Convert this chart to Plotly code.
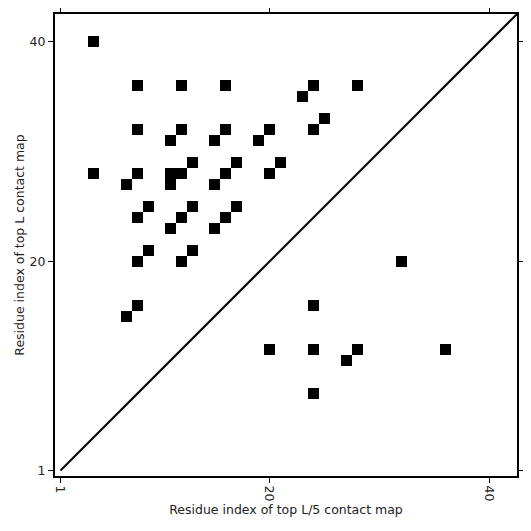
import plotly.graph_objects as go

contact_x = [4, 8, 12, 16, 24, 28, 23, 25, 8, 12, 16, 20, 24, 11, 15, 19, 13, 17, 21,
             4, 8, 11, 12, 16, 20, 7, 11, 15, 9, 13, 17, 8, 12, 16, 11, 15, 9, 13,
             8, 12, 32, 8, 24, 7, 20, 24, 28, 36, 27, 24]
contact_y = [40, 36, 36, 36, 36, 36, 35, 33, 32, 32, 32, 32, 32, 31, 31, 31, 29, 29, 29,
             28, 28, 28, 28, 28, 28, 27, 27, 27, 25, 25, 25, 24, 24, 24, 23, 23, 21, 21,
             20, 20, 20, 16, 16, 15, 12, 12, 12, 12, 11, 8]
diag = [1, 43]
tick_vals = [1, 20, 40]
tick_text = ["1", "20", "40"]

fig = go.Figure()
fig.add_trace(go.Scatter(x=diag, y=diag, mode="lines",
                         line=dict(color="black", width=2), hoverinfo="skip"))
fig.add_trace(go.Scatter(x=contact_x, y=contact_y, mode="markers",
                         marker=dict(symbol="square", size=11, color="black",
                                     line=dict(width=0))))

axis_common = dict(range=[0.5, 42.5], tickvals=tick_vals, ticktext=tick_text,
                   showgrid=False, zeroline=False, showline=True, linecolor="black",
                   linewidth=2, mirror="ticks", ticks="outside", ticklen=5,
                   tickwidth=1, tickcolor="black", automargin=False,
                   tickfont=dict(family="DejaVu Sans", size=12.5, color="#222"))

fig.update_layout(
    width=523, height=523,
    margin=dict(l=47, r=14, t=6, b=55),
    paper_bgcolor="white", plot_bgcolor="white",
    showlegend=False,
    xaxis=dict(**axis_common, tickangle=90,
               title=dict(text="Residue index of top L/5 contact map", standoff=5,
                          font=dict(family="DejaVu Sans", size=12.5, color="#222"))),
    yaxis=dict(**axis_common,
               title=dict(text="Residue index of top L contact map", standoff=2,
                          font=dict(family="DejaVu Sans", size=12.5, color="#222"))),
)

fig.write_html("out.html")
